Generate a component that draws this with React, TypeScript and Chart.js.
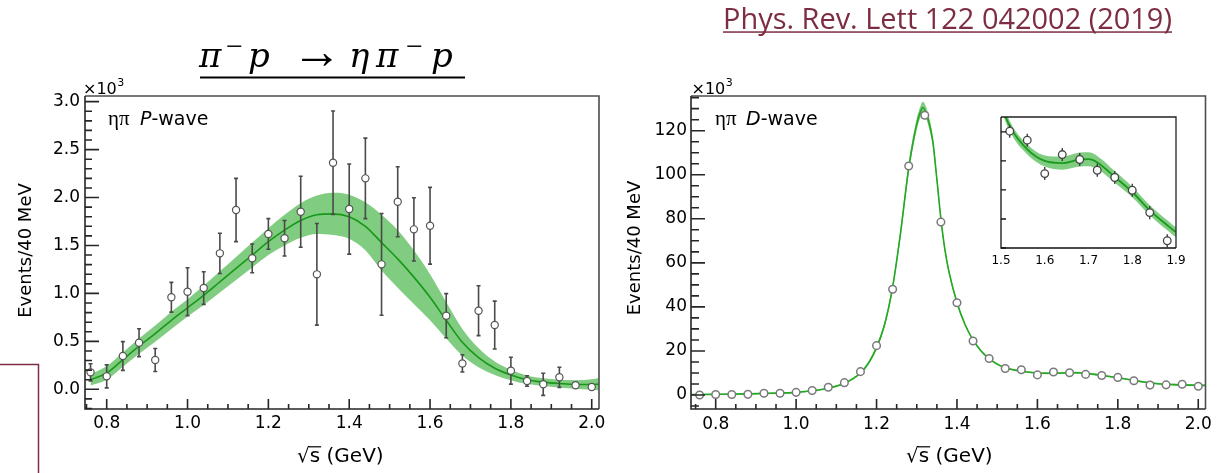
import React, { useEffect, useRef } from 'react';
import { Chart, registerables } from 'chart.js';

Chart.register(...registerables);

const SANS = "'DejaVu Sans', 'Liberation Sans', sans-serif";
const SERIF = "'Liberation Serif', 'DejaVu Serif', serif";
const DSERIF = "'DejaVu Serif', 'Liberation Serif', serif";
const MAROON = '#7d2d41';
const AXIS = '#262626';
const FRAME = '#4d4d4d';

// ---------- eta-pi P-wave (x1000 events / 40 MeV) ----------
const pMass = [0.76, 0.80, 0.84, 0.88, 0.92, 0.96, 1.00, 1.04, 1.08, 1.12, 1.16, 1.20, 1.24, 1.28, 1.32, 1.36,
  1.40, 1.44, 1.48, 1.52, 1.56, 1.60, 1.64, 1.68, 1.72, 1.76, 1.80, 1.84, 1.88, 1.92, 1.96, 2.00];
const pEvents = [0.177, 0.135, 0.347, 0.486, 0.306, 0.96, 1.018, 1.056, 1.418, 1.87, 1.366, 1.62, 1.575, 1.852, 1.199, 2.363,
  1.88, 2.2, 1.303, 1.956, 1.668, 1.706, 0.768, 0.27, 0.82, 0.67, 0.194, 0.087, 0.052, 0.125, 0.042, 0.024];
const pErrors = [0.09, 0.12, 0.15, 0.145, 0.12, 0.155, 0.25, 0.17, 0.21, 0.33, 0.15, 0.16, 0.185, 0.37, 0.53, 0.54,
  0.47, 0.42, 0.53, 0.365, 0.33, 0.40, 0.23, 0.09, 0.26, 0.25, 0.14, 0.055, 0.115, 0.105, 0.03, 0.03];
const pFitMass = [0.76, 0.80, 0.84, 0.88, 0.92, 0.96, 1.00, 1.04, 1.08, 1.12, 1.16, 1.20, 1.24, 1.28, 1.32, 1.36, 1.40,
  1.44, 1.48, 1.52, 1.56, 1.60, 1.64, 1.68, 1.72, 1.76, 1.80, 1.84, 1.88, 1.92, 1.96, 2.00, 2.02];
const pFitValue = [0.10, 0.17, 0.31, 0.45, 0.58, 0.72, 0.85, 0.98, 1.12, 1.26, 1.40, 1.54, 1.66, 1.76, 1.82, 1.83, 1.80,
  1.70, 1.53, 1.36, 1.17, 0.96, 0.72, 0.49, 0.33, 0.22, 0.15, 0.10, 0.075, 0.06, 0.05, 0.05, 0.055];
const pFitHalfWidth = [0.06, 0.07, 0.075, 0.08, 0.085, 0.09, 0.09, 0.10, 0.11, 0.12, 0.13, 0.14, 0.16, 0.18, 0.20, 0.22, 0.23,
  0.25, 0.29, 0.30, 0.28, 0.24, 0.19, 0.14, 0.10, 0.07, 0.055, 0.045, 0.04, 0.04, 0.045, 0.055, 0.065];
const pTickValuesX = [0.8, 1.0, 1.2, 1.4, 1.6, 1.8, 2.0];
const pTickValuesY = [0, 0.5, 1.0, 1.5, 2.0, 2.5, 3.0];

// ---------- eta-pi D-wave (x1000 events / 40 MeV) ----------
const dMass = [0.76, 0.80, 0.84, 0.88, 0.92, 0.96, 1.00, 1.04, 1.08, 1.12, 1.16, 1.20, 1.24, 1.28, 1.32, 1.36,
  1.40, 1.44, 1.48, 1.52, 1.56, 1.60, 1.64, 1.68, 1.72, 1.76, 1.80, 1.84, 1.88, 1.92, 1.96, 2.00];
const dEvents = [0.0, 0.2, 0.2, 0.3, 0.8, 0.8, 1.2, 2.0, 3.5, 5.6, 10.6, 22.4, 48.0, 104.0, 127.0, 78.5,
  41.9, 24.5, 16.6, 12.05, 11.43, 9.13, 10.44, 10.1, 9.36, 8.86, 7.98, 6.44, 4.5, 4.6, 4.9, 4.0];
const dErrors = [0.1, 0.1, 0.1, 0.1, 0.1, 0.1, 0.1, 0.1, 0.15, 0.2, 0.3, 0.5, 0.8, 1.2, 1.4, 1.0,
  0.7, 0.5, 0.45, 0.45, 0.45, 0.45, 0.45, 0.45, 0.45, 0.45, 0.45, 0.45, 0.45, 0.3, 0.3, 0.3];
const dFitMass = [0.74, 0.80, 0.88, 0.96, 1.00, 1.04, 1.08, 1.12, 1.16, 1.18, 1.20, 1.22, 1.24, 1.26, 1.28, 1.30, 1.31,
  1.315, 1.32, 1.33, 1.34, 1.35, 1.36, 1.37, 1.38, 1.40, 1.42, 1.44, 1.46, 1.48, 1.50, 1.52, 1.56, 1.60, 1.64, 1.68,
  1.70, 1.72, 1.76, 1.80, 1.84, 1.88, 1.90, 1.94, 2.00, 2.02];
const dFitValue = [0.2, 0.3, 0.5, 0.9, 1.2, 1.9, 3.1, 5.3, 10.0, 14.5, 21.5, 32, 49, 74, 103, 123, 129,
  130.5, 129.5, 124, 115, 98, 80, 66, 56, 42, 32, 25, 20, 16.5, 14.0, 12.4, 10.8, 10.0, 9.85, 10.1,
  10.12, 9.9, 8.9, 7.86, 6.6, 5.57, 5.1, 4.7, 4.4, 4.35];
const dFitHalfWidth = [0.3, 0.3, 0.3, 0.3, 0.3, 0.3, 0.3, 0.4, 0.6, 0.8, 1.0, 1.3, 1.6, 2.0, 2.4, 2.6, 2.6,
  2.6, 2.6, 2.5, 2.3, 2.0, 1.7, 1.4, 1.2, 0.9, 0.7, 0.55, 0.45, 0.4, 0.38, 0.36, 0.35, 0.38, 0.45, 0.48,
  0.48, 0.45, 0.4, 0.36, 0.35, 0.35, 0.35, 0.35, 0.35, 0.35];
const dTickValuesX = [0.8, 1.0, 1.2, 1.4, 1.6, 1.8, 2.0];
const dTickValuesY = [0, 20, 40, 60, 80, 100, 120];
const insetTickValuesX = [1.5, 1.6, 1.7, 1.8, 1.9];
const insetTickValuesY = [4, 6, 8, 10, 12];

type Pt = { x: number; y: number };
type ErrPt = { x: number; y: number; e: number };

function seq(from: number, to: number, step: number): number[] {
  const out: number[] = [];
  for (let k = 0; k < 1000; k++) {
    const v = from + k * step;
    if (v > to + 1e-9) break;
    out.push(Math.round(v * 1e6) / 1e6);
  }
  return out;
}

interface Spec {
  id: string;
  left: number; top: number; width: number; height: number;
  area: { left: number; top: number; right: number; bottom: number };
  xMin: number; xMax: number; yMin: number; yMax: number;
  xTicks: number[]; yTicks: number[];
  xFmt: (v: number) => string; yFmt: (v: number) => string;
  showY: boolean;
  tickFont: number; xPad: number; yPad: number;
  points: ErrPt[]; fit: Pt[]; bandHi: Pt[]; bandLo: Pt[];
  markerR: number; markerColor: string; markerWidth: number;
  errColor: string; errWidth: number; cap: number;
  lineColor: string; lineWidth: number; bandColor: string;
  majorX: number[]; minorX: number[]; majorY: number[]; minorY: number[];
  tickLenX: [number, number]; tickLenY: [number, number];
  frameColor: string; axisColor: string; frameWidth: number;
  whiteArea?: boolean;
  decorate?: (ctx: CanvasRenderingContext2D) => void;
}

function drawSqrtTitle(ctx: CanvasRenderingContext2D, x: number, y: number, size: number) {
  ctx.font = `${size}px ${SANS}`;
  ctx.textAlign = 'left';
  ctx.textBaseline = 'alphabetic';
  ctx.fillText('√', x, y);
  const w1 = ctx.measureText('√').width;
  ctx.fillText('s (GeV)', x + w1, y);
  const ws = ctx.measureText('s').width;
  ctx.beginPath();
  ctx.lineWidth = 1.2;
  ctx.strokeStyle = '#000';
  ctx.moveTo(x + w1 - 1, y - size * 0.76);
  ctx.lineTo(x + w1 + ws + 1, y - size * 0.76);
  ctx.stroke();
}

function drawWaveLabel(ctx: CanvasRenderingContext2D, x: number, xLetter: number, y: number, letter: string) {
  ctx.textAlign = 'left';
  ctx.textBaseline = 'alphabetic';
  ctx.font = `21px ${SERIF}`;
  ctx.fillText('ηπ', x, y);
  ctx.font = `italic 19px ${SANS}`;
  ctx.fillText(letter, xLetter, y);
  const w = ctx.measureText(letter).width;
  ctx.font = `19px ${SANS}`;
  ctx.fillText('-wave', xLetter + w, y);
}

function drawExponent(ctx: CanvasRenderingContext2D, x: number, y: number) {
  ctx.textAlign = 'left';
  ctx.textBaseline = 'alphabetic';
  ctx.font = `16px ${SANS}`;
  ctx.fillText('×10', x, y);
  const w = ctx.measureText('×10').width;
  ctx.font = `11px ${SANS}`;
  ctx.fillText('3', x + w + 0.5, y - 8);
}

function drawYTitle(ctx: CanvasRenderingContext2D, cx: number, cy: number) {
  ctx.save();
  ctx.translate(cx, cy);
  ctx.rotate(-Math.PI / 2);
  ctx.textAlign = 'center';
  ctx.textBaseline = 'middle';
  ctx.font = `18px ${SANS}`;
  ctx.fillText('Events/40 MeV', 0, 0);
  ctx.restore();
}

function decorPlugin(s: Spec) {
  return {
    id: 'decor_' + s.id,
    beforeDraw(chart: any) {
      if (!s.whiteArea) return;
      const a = chart.chartArea;
      const ctx = chart.ctx as CanvasRenderingContext2D;
      ctx.save();
      ctx.fillStyle = '#fff';
      ctx.fillRect(a.left, a.top, a.right - a.left, a.bottom - a.top);
      ctx.restore();
    },
    beforeDatasetDraw(chart: any, args: any) {
      if (args.index !== 0) return;
      const ctx = chart.ctx as CanvasRenderingContext2D;
      const a = chart.chartArea;
      const xs = chart.scales.x;
      const ys = chart.scales.y;
      ctx.save();
      ctx.beginPath();
      ctx.rect(a.left, a.top, a.right - a.left, a.bottom - a.top);
      ctx.clip();
      ctx.strokeStyle = s.errColor;
      ctx.lineWidth = s.errWidth;
      for (const p of s.points) {
        const px = xs.getPixelForValue(p.x);
        const y0 = ys.getPixelForValue(p.y - p.e);
        const y1 = ys.getPixelForValue(p.y + p.e);
        ctx.beginPath();
        ctx.moveTo(px, y0);
        ctx.lineTo(px, y1);
        if (s.cap > 0) {
          ctx.moveTo(px - s.cap, y0);
          ctx.lineTo(px + s.cap, y0);
          ctx.moveTo(px - s.cap, y1);
          ctx.lineTo(px + s.cap, y1);
        }
        ctx.stroke();
      }
      ctx.restore();
    },
    afterDraw(chart: any) {
      const ctx = chart.ctx as CanvasRenderingContext2D;
      const a = chart.chartArea;
      const xs = chart.scales.x;
      const ys = chart.scales.y;
      ctx.save();
      ctx.lineCap = 'butt';
      ctx.lineWidth = s.frameWidth;
      ctx.strokeStyle = s.frameColor;
      ctx.beginPath();
      ctx.moveTo(a.left, a.top);
      ctx.lineTo(a.right, a.top);
      ctx.lineTo(a.right, a.bottom);
      ctx.stroke();
      ctx.strokeStyle = s.axisColor;
      ctx.beginPath();
      ctx.moveTo(a.left, a.top);
      ctx.lineTo(a.left, a.bottom);
      ctx.lineTo(a.right, a.bottom);
      ctx.stroke();
      ctx.beginPath();
      const addX = (vals: number[], len: number) => {
        for (const v of vals) {
          if (v < s.xMin || v > s.xMax) continue;
          const px = xs.getPixelForValue(v);
          ctx.moveTo(px, a.bottom);
          ctx.lineTo(px, a.bottom - len);
        }
      };
      const addY = (vals: number[], len: number) => {
        for (const v of vals) {
          if (v < s.yMin || v > s.yMax) continue;
          const py = ys.getPixelForValue(v);
          ctx.moveTo(a.left, py);
          ctx.lineTo(a.left + len, py);
        }
      };
      addX(s.majorX, s.tickLenX[0]);
      addX(s.minorX, s.tickLenX[1]);
      addY(s.majorY, s.tickLenY[0]);
      addY(s.minorY, s.tickLenY[1]);
      ctx.stroke();
      ctx.restore();
      if (s.decorate) {
        ctx.save();
        ctx.fillStyle = '#000';
        s.decorate(ctx);
        ctx.restore();
      }
    },
  };
}

function buildConfig(s: Spec): any {
  const curve = { pointRadius: 0, cubicInterpolationMode: 'monotone', tension: 0 };
  return {
    type: 'line',
    data: {
      datasets: [
        {
          label: 'data', data: s.points.map((p) => ({ x: p.x, y: p.y })), showLine: false,
          pointRadius: s.markerR, pointStyle: 'circle', pointBackgroundColor: '#fff',
          pointBorderColor: s.markerColor, pointBorderWidth: s.markerWidth, order: 0,
        },
        { label: 'fit', data: s.fit, borderColor: s.lineColor, borderWidth: s.lineWidth, fill: false, order: 1, ...curve },
        {
          label: 'band upper', data: s.bandHi, borderColor: 'rgba(0,0,0,0)', borderWidth: 0, fill: '+1',
          backgroundColor: s.bandColor, order: 2, ...curve,
        },
        { label: 'band lower', data: s.bandLo, borderColor: 'rgba(0,0,0,0)', borderWidth: 0, fill: false, order: 3, ...curve },
      ],
    },
    options: {
      responsive: false,
      maintainAspectRatio: false,
      animation: false,
      events: [],
      layout: { padding: { left: 0, top: s.area.top, right: s.width - s.area.right, bottom: 0 } },
      plugins: { legend: { display: false }, tooltip: { enabled: false }, title: { display: false } },
      scales: {
        x: {
          type: 'linear', min: s.xMin, max: s.xMax,
          grid: { display: false, drawTicks: false }, border: { display: false },
          ticks: {
            autoSkip: false, maxRotation: 0, minRotation: 0, padding: s.xPad, color: '#000',
            font: { family: SANS, size: s.tickFont }, callback: (v: any) => s.xFmt(Number(v)),
          },
          afterBuildTicks: (sc: any) => { sc.ticks = s.xTicks.map((v) => ({ value: v })); },
          afterFit: (sc: any) => { sc.height = s.height - s.area.bottom; sc.paddingLeft = 0; sc.paddingRight = 0; },
        },
        y: {
          type: 'linear', min: s.yMin, max: s.yMax,
          grid: { display: false, drawTicks: false }, border: { display: false },
          ticks: {
            display: s.showY, padding: s.yPad, color: '#000',
            font: { family: SANS, size: s.tickFont }, callback: (v: any) => s.yFmt(Number(v)),
          },
          afterBuildTicks: (sc: any) => { sc.ticks = s.yTicks.map((v) => ({ value: v })); },
          afterFit: (sc: any) => { sc.width = s.area.left; sc.paddingTop = 0; sc.paddingBottom = 0; },
        },
      },
    },
    plugins: [decorPlugin(s)],
  };
}

function ChartCanvas({ spec }: { spec: Spec }) {
  const ref = useRef<HTMLCanvasElement>(null);
  useEffect(() => {
    if (!ref.current) return;
    const chart = new Chart(ref.current, buildConfig(spec));
    return () => chart.destroy();
  }, [spec]);
  return (
    <canvas
      ref={ref}
      width={spec.width}
      height={spec.height}
      style={{ position: 'absolute', left: spec.left, top: spec.top, width: spec.width, height: spec.height }}
    />
  );
}

const fmt1 = (v: number) => v.toFixed(1);
const fmt0 = (v: number) => String(Math.round(v));

const pPoints = pMass.map((x, i) => ({ x, y: pEvents[i], e: pErrors[i] }));
const pFit = pFitMass.map((x, i) => ({ x, y: pFitValue[i] }));
const pHi = pFitMass.map((x, i) => ({ x, y: pFitValue[i] + pFitHalfWidth[i] }));
const pLo = pFitMass.map((x, i) => ({ x, y: pFitValue[i] - pFitHalfWidth[i] }));

const dPoints = dMass.map((x, i) => ({ x, y: dEvents[i], e: dErrors[i] }));
const dFit = dFitMass.map((x, i) => ({ x, y: dFitValue[i] }));
const dHi = dFitMass.map((x, i) => ({ x, y: dFitValue[i] + dFitHalfWidth[i] }));
const dLo = dFitMass.map((x, i) => ({ x, y: dFitValue[i] - dFitHalfWidth[i] }));

const leftSpec: Spec = {
  id: 'p', left: 0, top: 0, width: 610, height: 473,
  area: { left: 85, top: 96, right: 599, bottom: 409 },
  xMin: 0.7463, xMax: 2.018, yMin: -0.2055, yMax: 3.059,
  xTicks: pTickValuesX, yTicks: pTickValuesY, xFmt: fmt1, yFmt: fmt1, showY: true,
  tickFont: 17, xPad: 4, yPad: 5,
  points: pPoints, fit: pFit, bandHi: pHi, bandLo: pLo,
  markerR: 3.6, markerColor: '#555', markerWidth: 1.2,
  errColor: '#4a4a4a', errWidth: 1.6, cap: 2,
  lineColor: '#179817', lineWidth: 1.6, bandColor: '#80cc80',
  majorX: pTickValuesX, minorX: seq(0.75, 2.0, 0.05), majorY: pTickValuesY, minorY: seq(-0.2, 3.0, 0.1),
  tickLenX: [10, 5], tickLenY: [14, 7],
  frameColor: FRAME, axisColor: AXIS, frameWidth: 1.6,
  decorate: (ctx) => {
    drawExponent(ctx, 83, 93.5);
    drawWaveLabel(ctx, 108, 140, 124.5, 'P');
    drawYTitle(ctx, 26.5, 250.5);
    drawSqrtTitle(ctx, 297, 462, 20);
    // reaction title
    ctx.textAlign = 'left';
    ctx.textBaseline = 'alphabetic';
    ctx.font = `italic 34px ${DSERIF}`;
    ctx.fillText('π', 199, 66.5);
    ctx.fillText('p', 248, 66.5);
    ctx.fillText('η', 349, 66.5);
    ctx.fillText('π', 376, 66.5);
    ctx.fillText('p', 431, 66.5);
    ctx.font = `30px ${SERIF}`;
    ctx.fillText('−', 226, 56);
    ctx.fillText('−', 406, 56);
    ctx.font = `50px ${SERIF}`;
    ctx.fillText('→', 292, 68);
    ctx.fillRect(200, 76.5, 265, 2);
    // bracket
    ctx.strokeStyle = MAROON;
    ctx.lineWidth = 1.5;
    ctx.beginPath();
    ctx.moveTo(0, 364.5);
    ctx.lineTo(38.5, 364.5);
    ctx.lineTo(38.5, 473);
    ctx.stroke();
  },
};

const rightSpec: Spec = {
  id: 'd', left: 610, top: 0, width: 619, height: 473,
  area: { left: 81, top: 96, right: 595.5, bottom: 409 },
  xMin: 0.7386, xMax: 2.018, yMin: -6.36, yMax: 135.75,
  xTicks: dTickValuesX, yTicks: dTickValuesY, xFmt: fmt1, yFmt: fmt0, showY: true,
  tickFont: 17, xPad: 5, yPad: 4,
  points: dPoints, fit: dFit, bandHi: dHi, bandLo: dLo,
  markerR: 3.8, markerColor: '#7a7a7a', markerWidth: 1.5,
  errColor: '#555', errWidth: 1.2, cap: 0,
  lineColor: '#22a822', lineWidth: 1.6, bandColor: '#80cc80',
  majorX: dTickValuesX, minorX: seq(0.75, 2.0, 0.05), majorY: dTickValuesY, minorY: seq(-5, 135, 5),
  tickLenX: [10, 5], tickLenY: [14, 8],
  frameColor: FRAME, axisColor: AXIS, frameWidth: 1.6,
  decorate: (ctx) => {
    drawExponent(ctx, 81.5, 93.5);
    drawWaveLabel(ctx, 105, 136, 124.5, 'D');
    drawYTitle(ctx, 25, 248);
    drawSqrtTitle(ctx, 296, 462, 20);
    // citation
    const text = 'Phys. Rev. Lett 122 042002 (2019)';
    ctx.font = `100px 'Open Sans', ${SANS}`;
    const w100 = ctx.measureText(text).width;
    const size = (100 * 449) / w100;
    ctx.font = `${size.toFixed(2)}px 'Open Sans', ${SANS}`;
    ctx.fillStyle = MAROON;
    ctx.textAlign = 'left';
    ctx.textBaseline = 'alphabetic';
    ctx.fillText(text, 113, 28.5);
    ctx.fillRect(113, 31.3, 449, 1.5);
  },
};

const insetPoints = dPoints.filter((p) => p.x >= 1.5 && p.x <= 1.9);

const insetSpec: Spec = {
  id: 'inset', left: 960, top: 100, width: 230, height: 175,
  area: { left: 41, top: 17, right: 216, bottom: 148 },
  xMin: 1.5, xMax: 1.9, yMin: 4, yMax: 13.03,
  xTicks: insetTickValuesX, yTicks: insetTickValuesY, xFmt: fmt1, yFmt: fmt0, showY: false,
  tickFont: 12, xPad: 6, yPad: 3,
  points: insetPoints, fit: dFit, bandHi: dHi, bandLo: dLo,
  markerR: 3.8, markerColor: '#444', markerWidth: 1.3,
  errColor: '#333', errWidth: 1.3, cap: 0,
  lineColor: '#1a9a1a', lineWidth: 1.8, bandColor: '#80cc80',
  majorX: [], minorX: [], majorY: insetTickValuesY, minorY: [],
  tickLenX: [0, 0], tickLenY: [5, 3],
  frameColor: '#222', axisColor: '#111', frameWidth: 1.3,
  whiteArea: true,
};

export default function App() {
  return (
    <div style={{ position: 'absolute', left: 0, top: 0, width: 1229, height: 473, background: '#fff', overflow: 'hidden' }}>
      <ChartCanvas spec={leftSpec} />
      <ChartCanvas spec={rightSpec} />
      <ChartCanvas spec={insetSpec} />
    </div>
  );
}
